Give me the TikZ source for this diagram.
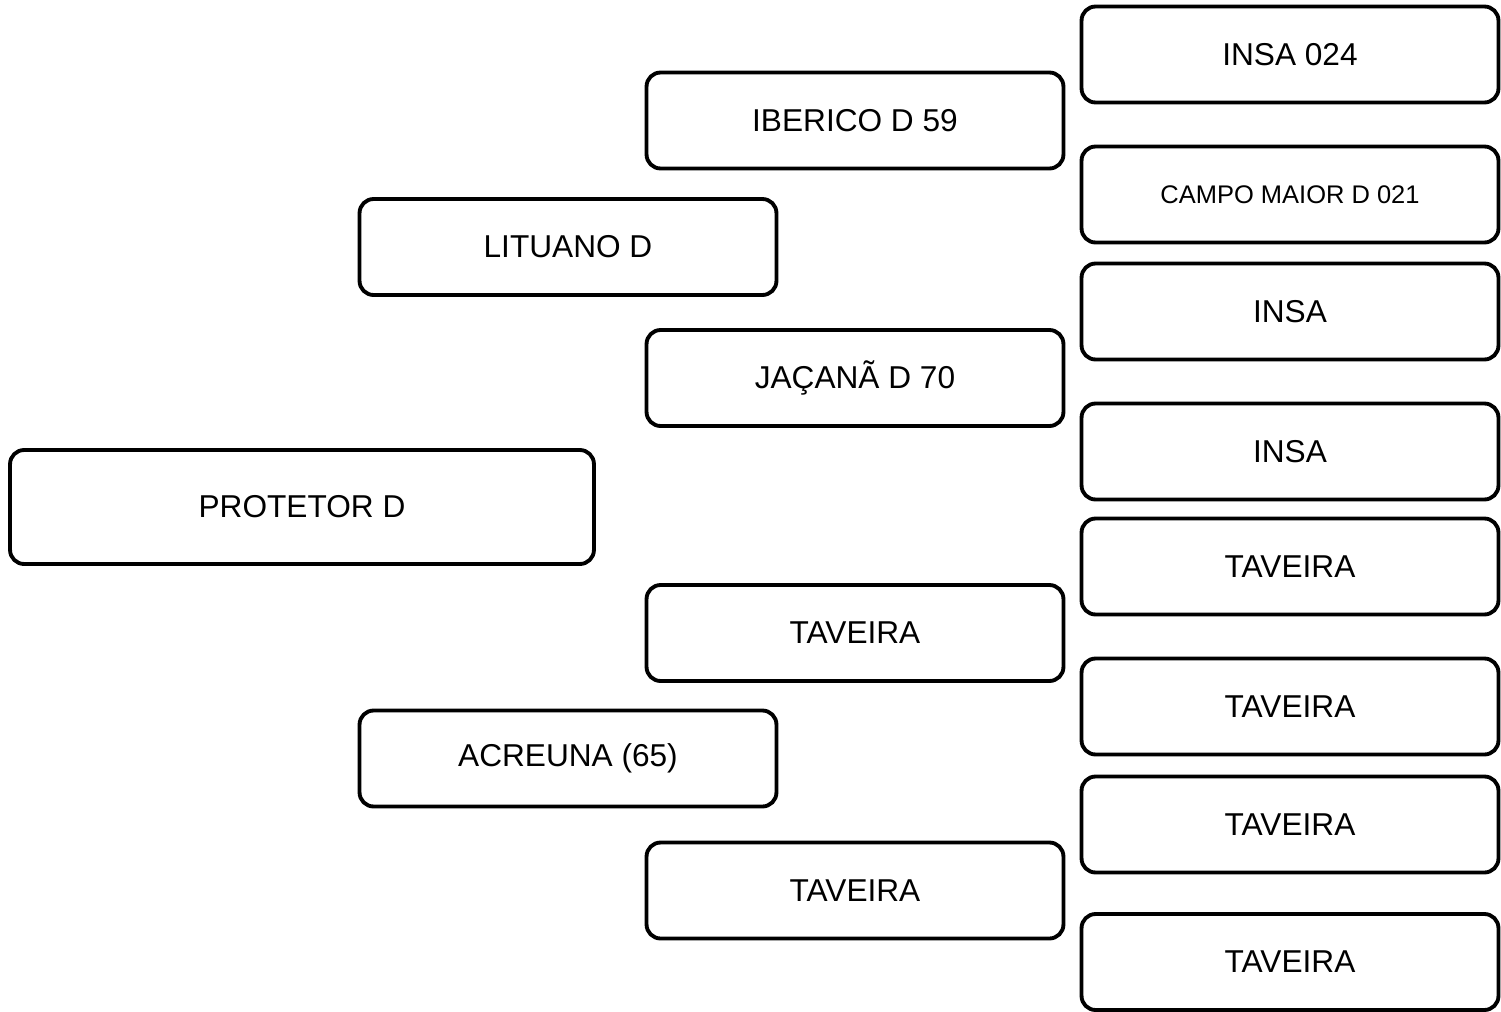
\documentclass[tikz,border=0pt]{standalone}
\usepackage{fontspec}
\setmainfont{Liberation Sans}
\usepackage{tikz}
\usetikzlibrary{positioning}
\tikzset{
  animal/.style      = {draw, line width=2.2pt, rounded corners=8pt,
                        minimum width=8.34cm, minimum height=1.92cm,
                        align=center, font=\fontsize{18}{22}\selectfont},
  animalbig/.style   = {animal, minimum width=11.68cm, minimum height=2.28cm},
  animalsmall/.style = {animal, font=\fontsize{14.5}{18}\selectfont}
}

\begin{document}
\begin{tikzpicture}[x=0.02cm, y=-0.02cm]
\useasboundingbox (0,0) rectangle (1501,1011);
% generation 1
\node[animalbig] (protetor) at (302,507) {PROTETOR D};
% generation 2
\node[animal] (lituano) at (568,247)   {LITUANO D};
\node[animal] (acreuna) at (568,758.5) {ACREUNA (65)};
% generation 3
\node[animal] (iberico) at (855,120.5) {IBERICO D 59};
\node[animal] (jacana)  at (855,378)   {JAÇANÃ D 70};
\node[animal] (taveiraA) at (855,633)  {TAVEIRA};
\node[animal] (taveiraB) at (855,890.5) {TAVEIRA};
% generation 4
\node[animal]      (insaA)    at (1290,54.5)  {INSA 024};
\node[animalsmall] (campo)    at (1290,194.5) {CAMPO MAIOR D 021};
\node[animal]      (insaB)    at (1290,311.5) {INSA};
\node[animal]      (insaC)    at (1290,451.5) {INSA};
\node[animal]      (taveiraC) at (1290,566.5) {TAVEIRA};
\node[animal]      (taveiraD) at (1290,706.5) {TAVEIRA};
\node[animal]      (taveiraE) at (1290,824.5) {TAVEIRA};
\node[animal]      (taveiraF) at (1290,962)   {TAVEIRA};
\end{tikzpicture}
\end{document}
